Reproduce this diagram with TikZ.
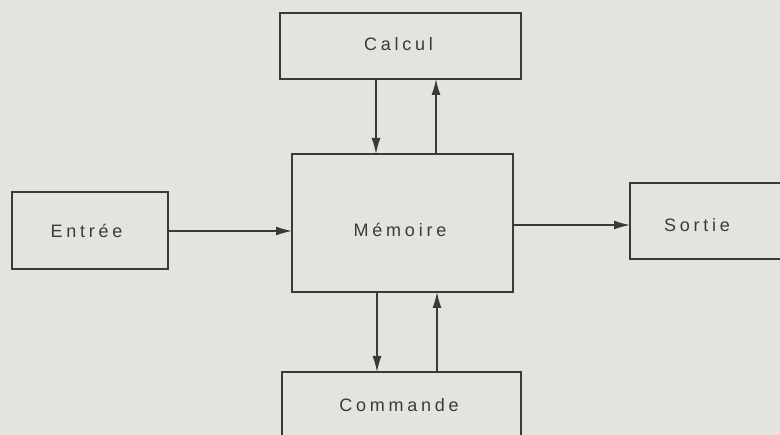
\documentclass[tikz,border=0pt]{standalone}
\usepackage{fontspec}
\setmainfont[LetterSpace=21]{Liberation Sans}
\usetikzlibrary{arrows.meta}
\definecolor{bg}{RGB}{228,228,222}
\definecolor{ink}{RGB}{58,58,56}
\definecolor{txt}{RGB}{58,58,56}
\begin{document}
\begin{tikzpicture}[x=1pt,y=-1pt,
  blk/.style={draw=ink,line width=1.4pt,rectangle,inner sep=0pt,outer sep=0pt},
  lbl/.style={text=txt,inner sep=0pt,anchor=base,font=\fontsize{18}{20}\selectfont},
  arr/.style={draw=ink,line width=1.4pt,-{Latex[length=16pt,width=9pt]}}]
\fill[bg] (0,0) rectangle (780,435);
\useasboundingbox (0,0) rectangle (780,435);
\clip (0,0) rectangle (780,435);
\node[blk,minimum width=241,minimum height=66] (calcul) at (400.5,46) {};
\node[blk,minimum width=221,minimum height=138] (memoire) at (402.5,223) {};
\node[blk,minimum width=156,minimum height=77] (entree) at (90,230.5) {};
\node[blk,minimum width=170,minimum height=76] (sortie) at (715,221) {};
\node[blk,minimum width=239,minimum height=66] (commande) at (401.5,405) {};
\node[lbl] (calcultxt) at (398.5,51) {Calcul};
\node[lbl] (memoiretxt) at (400,237) {Mémoire};
\node[lbl] (entreetxt) at (86.5,238) {Entrée};
\node[lbl] (sortietxt) at (697,232) {Sortie};
\node[lbl] (commandetxt) at (399,412) {Commande};
\draw[arr] (376,0 |- calcul.south) -- (376,0 |- memoire.north);
\draw[arr] (436,0 |- memoire.north) -- (436,0 |- calcul.south);
\draw[arr] (377,0 |- memoire.south) -- (377,0 |- commande.north);
\draw[arr] (437,0 |- commande.north) -- (437,0 |- memoire.south);
\draw[arr] (entree.east |- 0,231) -- (memoire.west |- 0,231);
\draw[arr] (memoire.east |- 0,225) -- (sortie.west |- 0,225);
\end{tikzpicture}
\end{document}
